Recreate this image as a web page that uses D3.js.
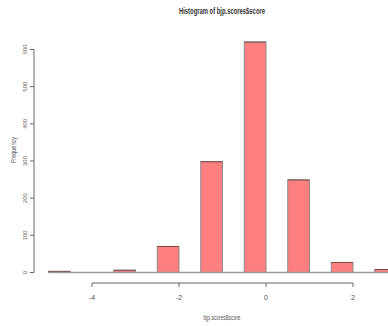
<!DOCTYPE html>
<html>
<head>
<meta charset="utf-8">
<script src="https://cdn.jsdelivr.net/npm/d3@7"></script>
<style>
  html, body { margin: 0; padding: 0; background: #fff; }
  svg { display: block; }
  text { font-family: "Liberation Sans", Arial, sans-serif; }
</style>
</head>
<body>
<div id="chart"></div>
<script>
// histogram bins (width 0.5) and counts
const binStarts = [-5, -4.5, -4, -3.5, -3, -2.5, -2, -1.5, -1, -0.5, 0, 0.5, 1, 1.5, 2, 2.5]
const counts    = [ 3,    0,  0,    6,  0,   70,  0,  298,  0,  620, 0,  249, 0,   27, 0,   8]
const binWidth = 0.5
const xTicks = [-4, -2, 0, 2]
const yTicks = [0, 100, 200, 300, 400, 500, 600]

const width = 388
const height = 326

const bins = binStarts.map((b, i) => ({ x0: b, x1: b + binWidth, n: counts[i] }))

const svg = d3.select('#chart')
  .append('svg')
  .attr('width', width)
  .attr('height', height)

const x = d3.scaleLinear().domain([-4, 2]).range([92, 353])
const y = d3.scaleLinear().domain([0, 600]).range([272.5, 49.5])

// title
svg.append('text')
  .attr('x', 222)
  .attr('y', 14)
  .attr('text-anchor', 'middle')
  .attr('font-size', 9)
  .attr('font-weight', 'bold')
  .attr('fill', '#333')
  .attr('textLength', 86)
  .attr('lengthAdjust', 'spacingAndGlyphs')
  .text('Histogram of bjp.scores$score')

// bars
svg.append('g')
  .selectAll('rect')
  .data(bins.filter(d => d.n > 0))
  .join('rect')
  .attr('x', d => x(d.x0))
  .attr('y', d => y(d.n))
  .attr('width', d => x(d.x1) - x(d.x0))
  .attr('height', d => y(0) - y(d.n))
  .attr('fill', '#ff7f7f')
  .attr('stroke', '#8a8a8a')
  .attr('stroke-width', 1)

// bar tops darker edge
svg.append('g')
  .selectAll('line')
  .data(bins.filter(d => d.n > 0))
  .join('line')
  .attr('x1', d => x(d.x0))
  .attr('x2', d => x(d.x1))
  .attr('y1', d => y(d.n))
  .attr('y2', d => y(d.n))
  .attr('stroke', '#7a4a4a')
  .attr('stroke-width', 1)

// zero-height bins / baseline
svg.append('g')
  .selectAll('line')
  .data(bins)
  .join('line')
  .attr('x1', d => x(d.x0))
  .attr('x2', d => x(d.x1))
  .attr('y1', y(0))
  .attr('y2', y(0))
  .attr('stroke', '#999')
  .attr('stroke-width', 1.5)

// x axis
const xAxisY = 283
svg.append('line')
  .attr('x1', x(xTicks[0])).attr('x2', x(xTicks[xTicks.length - 1]))
  .attr('y1', xAxisY).attr('y2', xAxisY)
  .attr('stroke', '#666').attr('stroke-width', 1)
svg.append('g')
  .selectAll('line')
  .data(xTicks)
  .join('line')
  .attr('x1', d => x(d)).attr('x2', d => x(d))
  .attr('y1', xAxisY).attr('y2', xAxisY + 4)
  .attr('stroke', '#666')
svg.append('g')
  .selectAll('text')
  .data(xTicks)
  .join('text')
  .attr('x', d => x(d))
  .attr('y', 300)
  .attr('text-anchor', 'middle')
  .attr('font-size', 7)
  .attr('fill', '#555')
  .text(d => d)

// y axis
const yAxisX = 34
svg.append('line')
  .attr('x1', yAxisX).attr('x2', yAxisX)
  .attr('y1', y(0)).attr('y2', y(600))
  .attr('stroke', '#666').attr('stroke-width', 1)
svg.append('g')
  .selectAll('line')
  .data(yTicks)
  .join('line')
  .attr('x1', yAxisX - 4).attr('x2', yAxisX)
  .attr('y1', d => y(d)).attr('y2', d => y(d))
  .attr('stroke', '#666')
svg.append('g')
  .selectAll('text')
  .data(yTicks)
  .join('text')
  .attr('transform', d => `translate(27,${y(d)}) rotate(-90)`)
  .attr('text-anchor', 'middle')
  .attr('font-size', 6)
  .attr('fill', '#666')
  .text(d => d)

// axis titles
svg.append('text')
  .attr('x', 222)
  .attr('y', 320)
  .attr('text-anchor', 'middle')
  .attr('font-size', 7)
  .attr('fill', '#555')
  .attr('textLength', 37)
  .attr('lengthAdjust', 'spacingAndGlyphs')
  .text('bjp.scores$score')

svg.append('text')
  .attr('transform', `translate(16,150) rotate(-90)`)
  .attr('text-anchor', 'middle')
  .attr('font-size', 7)
  .attr('fill', '#555')
  .attr('textLength', 26)
  .attr('lengthAdjust', 'spacingAndGlyphs')
  .text('Frequency')
</script>
</body>
</html>
